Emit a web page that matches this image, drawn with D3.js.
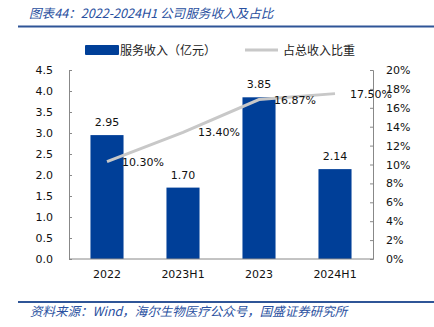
<!DOCTYPE html>
<html>
<head>
<meta charset="utf-8">
<script src="https://cdn.jsdelivr.net/npm/d3@7"></script>
<style>
  html, body { margin: 0; padding: 0; background: #fff; }
  svg { display: block; }
  text { font-family: "DejaVu Sans", "Noto Sans CJK SC", sans-serif; }
  .cjk { font-family: "Noto Sans CJK SC", "DejaVu Sans", sans-serif; }
</style>
</head>
<body>
<svg id="chart" width="434" height="327"></svg>
<script>
// Service revenue (100m CNY) and its share of total revenue
const categories = ["2022", "2023H1", "2023", "2024H1"];
const revenue = [2.95, 1.70, 3.85, 2.14];
const share = [0.1030, 0.1340, 0.1687, 0.1750];
const leftTicks = [0, 0.5, 1.0, 1.5, 2.0, 2.5, 3.0, 3.5, 4.0, 4.5];
const rightTicks = [0, 0.02, 0.04, 0.06, 0.08, 0.10, 0.12, 0.14, 0.16, 0.18, 0.20];

const BLUE = "#003f98";
const GRAY = "#c8c8c8";
const TITLE_BLUE = "#2950a0";

const svg = d3.select("#chart");
const m = { left: 69, right: 373, top: 70, bottom: 259 };

const x = d3.scaleBand().domain(categories).range([m.left, m.right]).paddingInner(0.565).paddingOuter(0.2825);
const yL = d3.scaleLinear().domain([0, 4.5]).range([m.bottom, m.top]);
const yR = d3.scaleLinear().domain([0, 0.20]).range([m.bottom, m.top]);

// Title
svg.append("text")
  .attr("x", 29).attr("y", 18)
  .attr("font-size", 12.6).attr("font-style", "italic")
  .attr("fill", TITLE_BLUE)
  .attr("class", "cjk")
  .text("图表44：2022-2024H1 公司服务收入及占比");

svg.append("line").attr("x1", 18).attr("x2", 434).attr("y1", 26.5).attr("y2", 26.5)
  .attr("stroke", "#2f5597").attr("stroke-width", 2);

// Legend
const lg = svg.append("g");
lg.append("rect").attr("x", 85).attr("y", 45).attr("width", 34).attr("height", 10).attr("rx", 1).attr("fill", BLUE);
lg.append("text").attr("class", "cjk").attr("x", 120).attr("y", 54.5).attr("font-size", 12).attr("fill", "#222").text("服务收入（亿元）");
lg.append("line").attr("x1", 245).attr("x2", 278).attr("y1", 50).attr("y2", 50).attr("stroke", GRAY).attr("stroke-width", 3);
lg.append("text").attr("class", "cjk").attr("x", 283).attr("y", 54.5).attr("font-size", 12).attr("fill", "#222").text("占总收入比重");

// Bars
svg.append("g").selectAll("rect").data(categories).join("rect")
  .attr("x", d => x(d))
  .attr("width", x.bandwidth())
  .attr("y", (d, i) => yL(revenue[i]))
  .attr("height", (d, i) => yL(0) - yL(revenue[i]))
  .attr("fill", BLUE);

// Axes
const axisColor = "#888";
const left = svg.append("g").attr("transform", `translate(${m.left},0)`)
  .call(d3.axisLeft(yL).tickValues(leftTicks).tickFormat(d3.format(".1f")).tickSize(-3).tickPadding(16));
const right = svg.append("g").attr("transform", `translate(${m.right},0)`)
  .call(d3.axisRight(yR).tickValues(rightTicks).tickFormat(d3.format(".0%")).tickSize(-3).tickPadding(13));
const bottom = svg.append("g").attr("transform", `translate(0,${m.bottom})`)
  .call(d3.axisBottom(x).tickSize(0).tickPadding(11));
[left, right, bottom].forEach(g => {
  g.select(".domain").attr("stroke", axisColor);
  g.selectAll(".tick line").attr("stroke", axisColor);
  g.selectAll("text").attr("font-size", 11).attr("fill", "#111").attr("font-family", "DejaVu Sans");
});
bottom.select(".domain").attr("d", `M${m.left},0H${m.right}`);

// Share line
const line = d3.line().x((d, i) => x(categories[i]) + x.bandwidth() / 2).y(d => yR(d));
svg.append("path").datum(share).attr("d", line)
  .attr("fill", "none").attr("stroke", GRAY).attr("stroke-width", 3);

// Bar value labels
svg.append("g").selectAll("text").data(categories).join("text")
  .attr("x", d => x(d) + x.bandwidth() / 2)
  .attr("y", (d, i) => yL(revenue[i]) - 9)
  .attr("text-anchor", "middle").attr("font-size", 11).attr("fill", "#111")
  .text((d, i) => revenue[i].toFixed(2));

// Share labels
svg.append("g").selectAll("text").data(categories).join("text")
  .attr("x", d => x(d) + x.bandwidth() / 2 + 15)
  .attr("y", (d, i) => yR(share[i]) + 4)
  .attr("font-size", 11).attr("fill", "#111")
  .text((d, i) => d3.format(".2%")(share[i]));

// Source note
svg.append("line").attr("x1", 18).attr("x2", 434).attr("y1", 302).attr("y2", 302)
  .attr("stroke", "#2f5597").attr("stroke-width", 2);
svg.append("text").attr("class", "cjk")
  .attr("x", 30).attr("y", 316)
  .attr("font-size", 12.5).attr("font-style", "italic").attr("fill", TITLE_BLUE)
  .text("资料来源：Wind，海尔生物医疗公众号，国盛证券研究所");
</script>
</body>
</html>
